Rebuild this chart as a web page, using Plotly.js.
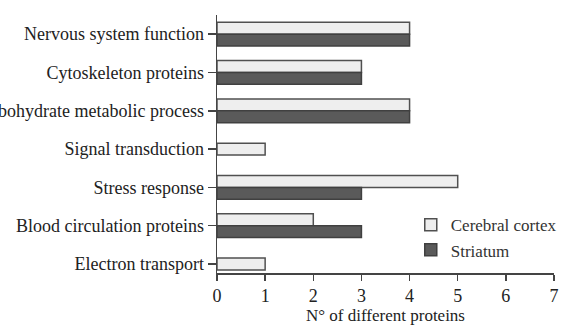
<!DOCTYPE html>
<html>
<head>
<meta charset="utf-8">
<script src="https://cdn.plot.ly/plotly-3.0.1.min.js"></script>
<style>
html,body{margin:0;padding:0;background:#fff;}
#chart{width:564px;height:330px;}
</style>
</head>
<body>
<div id="chart"></div>
<script>
// Categories listed top to bottom
const categories = [
  "Nervous system function",
  "Cytoskeleton proteins",
  "Carbohydrate metabolic process",
  "Signal transduction",
  "Stress response",
  "Blood circulation proteins",
  "Electron transport"
];
const cortexValues   = [4, 3, 4, 1, 5, 2, 1];
const striatumValues = [4, 3, 4, 0, 3, 3, 0];
const xTicks = [0, 1, 2, 3, 4, 5, 6, 7];

const W = 0.31;
const cortexOffset = striatumValues.map(v => v > 0 ? 0 : -W / 2);
const striatumOffset = striatumValues.map(() => -W);

const font = "Liberation Serif, serif";

const cortex = {
  type: "bar", orientation: "h", name: "Cerebral cortex",
  y: categories, x: cortexValues,
  width: W, offset: cortexOffset,
  marker: {color: "#eeeeee", line: {color: "#505050", width: 1.5}}
};
const striatum = {
  type: "bar", orientation: "h", name: "Striatum",
  y: categories, x: striatumValues.map(v => v > 0 ? v : null),
  width: W, offset: striatumOffset,
  marker: {color: "#5a5a5a", line: {color: "#404040", width: 1.5}}
};

const layout = {
  width: 564, height: 330,
  margin: {l: 217, r: 2, t: 15, b: 57},
  paper_bgcolor: "#fff", plot_bgcolor: "#fff",
  barmode: "overlay",
  font: {family: font, size: 18, color: "#222"},
  showlegend: true,
  legend: {
    x: 0.575, y: 0.255, xanchor: "left", yanchor: "top",
    bgcolor: "rgba(0,0,0,0)", font: {family: font, size: 17, color: "#333"},
    traceorder: "normal", itemwidth: 30, tracegroupgap: 0
  },
  xaxis: {
    range: [0, 7], tickvals: xTicks, ticktext: xTicks.map(String),
    ticklabeloverflow: "allow",
    showgrid: false, zeroline: false,
    showline: true, linecolor: "#444", linewidth: 1.5,
    ticks: "outside", ticklen: 6, tickcolor: "#444", tickwidth: 1.5,
    tickfont: {family: font, size: 18, color: "#222"},
    title: {text: "N° of different proteins", font: {family: font, size: 17, color: "#222"}, standoff: 2},
    fixedrange: true
  },
  yaxis: {
    type: "category",
    categoryorder: "array", categoryarray: categories.slice().reverse(),
    range: [-0.235, 6.5],
    showgrid: false, zeroline: false,
    showline: true, linecolor: "#444", linewidth: 1.5,
    ticks: "outside", ticklen: 8, tickcolor: "#444", tickwidth: 1.5,
    tickfont: {family: font, size: 18, color: "#222"},
    automargin: false, fixedrange: true
  }
};

Plotly.newPlot("chart", [cortex, striatum], layout, {displayModeBar: false, staticPlot: true});
</script>
</body>
</html>
